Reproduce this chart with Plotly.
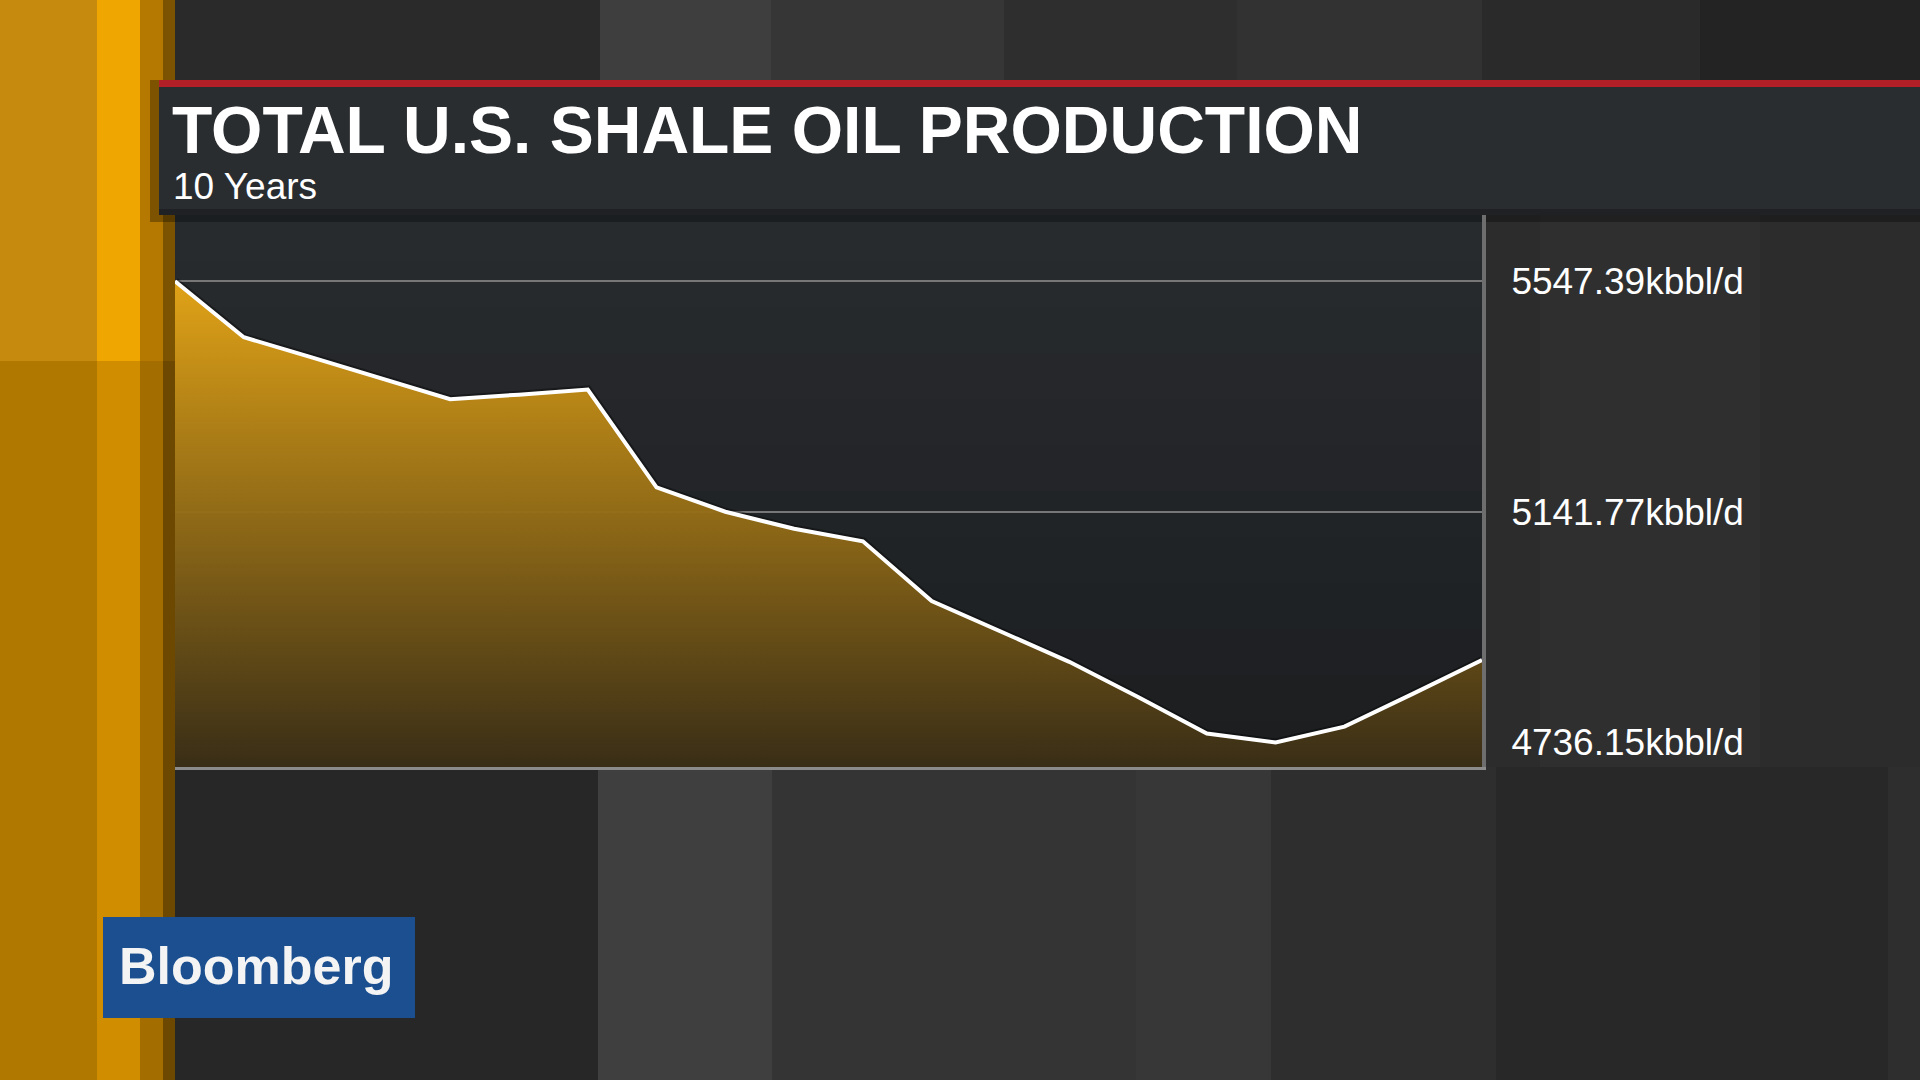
import plotly.graph_objects as go

# ---------------- data ----------------
periods = ["P01", "P02", "P03", "P04", "P05", "P06", "P07", "P08", "P09", "P10",
           "P11", "P12", "P13", "P14", "P15", "P16", "P17", "P18", "P19", "P20"]
production = [5547.39, 5449, 5413, 5377, 5340, 5348, 5357, 5185, 5142, 5112,
              5090, 4985, 4931, 4878, 4816, 4752, 4736.15, 4764, 4822, 4881]
tick_values = [4736.15, 5141.77, 5547.39]
tick_labels = ["4736.15kbbl/d", "5141.77kbbl/d", "5547.39kbbl/d"]
grid_values = [5141.77, 5547.39]
title_text = "TOTAL U.S. SHALE OIL PRODUCTION"
subtitle_text = "10 Years"
brand_text = "Bloomberg"

# ---------------- geometry helpers ----------------
W, H = 1920, 1080
L, R, T, B = 175, 1482, 215, 767
Y_RANGE = [4693, 5664]


def px(x):
    return (x - L) / (R - L)


def py(y):
    return (B - y) / (B - T)


def rect(x0, y0, x1, y1, color, layer="below"):
    return dict(type="rect", xref="paper", yref="paper",
                x0=px(x0), x1=px(x1), y0=py(y1), y1=py(y0),
                fillcolor=color, line=dict(width=0), layer=layer)


shapes = []
# top strip bands
for x0, x1, c in [(175, 600, "#2a2a2a"), (600, 771, "#3e3e3e"), (771, 1004, "#363636"),
                  (1004, 1237, "#2e2e2e"), (1237, 1482, "#323232"), (1482, 1700, "#2a2a2a"),
                  (1700, 1920, "#232323")]:
    shapes.append(rect(x0, 0, x1, 86, c))
# bottom strip bands
for x0, x1, c in [(175, 598, "#272727"), (598, 772, "#3f3f3f"), (772, 1136, "#343434"),
                  (1136, 1271, "#373737"), (1271, 1496, "#2e2e2e"), (1496, 1888, "#282828"),
                  (1888, 1920, "#2e2e2e")]:
    shapes.append(rect(x0, 767, x1, 1080, c))
# right panel
shapes.append(rect(1482, 213, 1920, 767, "#2c2c2c"))
shapes.append(rect(1540, 213, 1760, 767, "#2f2f2f"))
# left orange strip
shapes += [
    rect(0, 0, 97, 361, "#c68a0e"),
    rect(97, 0, 140, 361, "#efa600"),
    rect(140, 0, 163, 361, "#b57800"),
    rect(163, 0, 175, 361, "#7c5300"),
    rect(0, 361, 97, 1080, "#b17800"),
    rect(97, 361, 140, 1080, "#d08d00"),
    rect(140, 361, 163, 1080, "#a36d00"),
    rect(163, 361, 175, 1080, "#6c4800"),
]
# plot area background (soft vertical gradient)
n_bands = 12
c_top = (40, 43, 46)
c_bot = (28, 30, 32)
for i in range(n_bands):
    f = i / (n_bands - 1)
    c = tuple(int(round(a + (b - a) * f)) for a, b in zip(c_top, c_bot))
    y0 = T + (B - T) * i / n_bands
    y1 = T + (B - T) * (i + 1) / n_bands
    shapes.append(rect(L, y0, R, y1 + 1, "rgb(%d,%d,%d)" % c))
# title bar, red rule, shadow
shapes += [
    rect(150, 80, 1920, 222, "rgba(0,0,0,0.30)"),
    rect(159, 80, 1920, 87, "#b21f27"),
    rect(159, 87, 1920, 213, "#2a2d30"),
    rect(159, 209, 1920, 215, "#1f2124"),
]
# brand box
shapes.append(rect(103, 917, 415, 1018, "#1b4f8f"))

# ---------------- figure ----------------
fig = go.Figure()

fig.add_trace(go.Scatter(
    x=periods, y=production, mode="lines",
    line=dict(color="rgba(0,0,0,0.35)", width=8),
    showlegend=False, hoverinfo="skip",
))
fig.add_trace(go.Scatter(
    x=periods, y=production, mode="lines",
    line=dict(color="white", width=4),
    fill="tozeroy",
    fillgradient=dict(type="vertical", start=Y_RANGE[0], stop=max(production),
                      colorscale=[[0, "rgba(58,46,22,0.96)"],
                                  [1, "rgba(232,167,22,0.96)"]]),
    showlegend=False, hoverinfo="skip",
))
# carrier trace for the label axis
fig.add_trace(go.Scatter(
    x=periods, y=production, yaxis="y2", mode="lines",
    line=dict(width=0, color="rgba(0,0,0,0)"),
    showlegend=False, hoverinfo="skip",
))

tick_font = dict(family="Liberation Sans", size=37, color="white")

fig.update_layout(
    width=W, height=H,
    margin=dict(l=L, r=W - R, t=T, b=H - B, pad=0),
    paper_bgcolor="#2b2b2b",
    plot_bgcolor="rgba(0,0,0,0)",
    shapes=shapes,
    xaxis=dict(type="category", range=[0, len(periods) - 1], showgrid=False,
               showline=True, linecolor="#8c8c8c", linewidth=3,
               showticklabels=False, ticks="", zeroline=False, fixedrange=True),
    yaxis=dict(range=Y_RANGE, tickvals=grid_values, showticklabels=False,
               showgrid=True, gridcolor="#777777", gridwidth=2, showline=False,
               zeroline=False, ticks="", side="right", fixedrange=True),
    yaxis2=dict(range=Y_RANGE, overlaying="y", side="right",
                tickvals=tick_values, ticktext=tick_labels, showgrid=False,
                showline=True, linecolor="#6e6e6e", linewidth=4, ticks="",
                ticklabelstandoff=18, tickfont=tick_font, zeroline=False,
                fixedrange=True),
    annotations=[
        dict(text=title_text, xref="paper", yref="paper", x=px(170), y=py(130),
             xanchor="left", yanchor="middle", showarrow=False,
             font=dict(family="Liberation Sans", size=66, color="white", weight="bold")),
        dict(text=subtitle_text, xref="paper", yref="paper", x=px(171), y=py(186),
             xanchor="left", yanchor="middle", showarrow=False,
             font=dict(family="Liberation Sans", size=37, color="white")),
        dict(text=brand_text, xref="paper", yref="paper", x=px(256), y=py(966),
             xanchor="center", yanchor="middle", showarrow=False,
             font=dict(family="Liberation Sans", size=52, color="#f4f4f4", weight="bold")),
    ],
)

fig.write_html("out.html", config={"displayModeBar": False},
               post_script="document.body.style.margin='0px';document.body.style.padding='0px';")
